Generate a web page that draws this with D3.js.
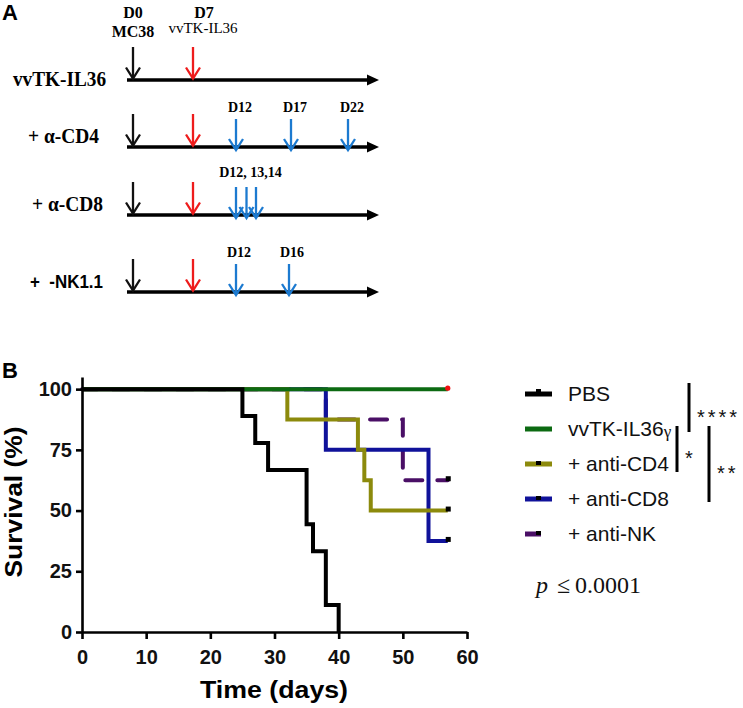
<!DOCTYPE html>
<html><head><meta charset="utf-8">
<script src="https://cdn.jsdelivr.net/npm/d3@7"></script>
<style>body{margin:0;background:#fff} svg{display:block}</style>
</head><body><svg id="c" width="743" height="708"></svg>
<script>
// ---------------- DATA ----------------
// Panel A: schedule
const rowLabels = ["vvTK-IL36", "+ \u03b1-CD4", "+ \u03b1-CD8", "+  -NK1.1"];
const tumorDay = 0;
const virusDay = 7;
const antibodyDays = [[], [12, 17, 22], [12, 13, 14], [12, 16]];
const antibodyLabels = [[], ["D12", "D17", "D22"], ["D12, 13,14"], ["D12", "D16"]];
const antibodyLabelDays = [[], [12, 17, 22], [13], [12, 16]];
const topLabels = [["D0", "MC38"], ["D7", "vvTK-IL36"]];

// Panel B: Kaplan-Meier survival
const timeTicks = [0, 10, 20, 30, 40, 50, 60];
const survivalTicks = [0, 25, 50, 75, 100];
const seriesNames = ["PBS", "vvTK-IL36", "+ anti-CD4", "+ anti-CD8", "+ anti-NK"];
const pbsDays = [0, 25, 27, 29, 35, 36, 38, 40];
const pbsSurv = [100, 88.9, 77.8, 66.7, 44.4, 33.3, 11.1, 0];
const il36Days = [0, 57];
const il36Surv = [100, 100];
const cd4Days = [0, 32, 43, 44, 45, 57];
const cd4Surv = [100, 87.5, 75, 62.5, 50, 50];
const cd8Days = [0, 38, 54, 57];
const cd8Surv = [100, 75, 37.5, 37.5];
const nkDays = [0, 38, 50, 57];
const nkSurv = [100, 87.5, 62.5, 62.5];
const sigLabels = ["****", "*", "**"];
const sigPairs = [[0, 1], [1, 2], [1, 3]];
const pText = "0.0001";

// ---------------- STYLE / LAYOUT ----------------
const colors = ["#000000", "#0c6a12", "#8c8a0c", "#10129a", "#4a0f66"];
const serif = "'Liberation Serif','Times New Roman',serif";
const sans = "'Liberation Sans',Arial,sans-serif";
const svg = d3.select("#c");

// ---------- Panel A ----------
svg.append("text").attr("x", 2).attr("y", 20).text("A")
  .attr("font-family", sans).attr("font-weight", "bold").attr("font-size", 22);

const sx = d3.scaleLinear().domain([0, 7, 12, 13, 14, 16, 17, 22])
  .range([133, 193, 236, 246.5, 256, 289, 291, 348]);
const rowY = [80, 147, 215, 292];
const rowLabelX = [13, 28, 32, 30];
const rowLabelW = [93, 71, 71, 73];
const arrowCol = {tumor: "#111111", virus: "#ee1c1c", ab: "#1c7ad0"};

function arrow(g, x, y1, y2, col) {
  g.append("line").attr("x1", x).attr("x2", x).attr("y1", y1).attr("y2", y2)
    .attr("stroke", col).attr("stroke-width", 2.3);
  g.append("path").attr("d", `M${x-7},${y2-11}L${x},${y2}L${x+7},${y2-11}`)
    .attr("fill", "none").attr("stroke", col).attr("stroke-width", 2.3);
}

const gA = svg.append("g");
rowLabels.forEach((lab, i) => {
  const L = rowY[i];
  gA.append("line").attr("x1", 127).attr("x2", 369).attr("y1", L).attr("y2", L)
    .attr("stroke", "#000").attr("stroke-width", 3.5);
  gA.append("path").attr("d", `M367,${L-5.5}L379,${L}L367,${L+5.5}Z`).attr("fill", "#000");
  gA.append("text").attr("x", rowLabelX[i]).attr("y", L + (i === 0 ? 6 : -4))
    .attr("font-family", i === 3 ? sans : serif).attr("font-weight", "bold")
    .attr("font-size", i === 3 ? 18 : 21).style("white-space", "pre")
    .attr("textLength", rowLabelW[i]).attr("lengthAdjust", "spacingAndGlyphs").text(lab);
  arrow(gA, sx(tumorDay), L - 33, L - 1.5, arrowCol.tumor);
  arrow(gA, sx(virusDay), L - 33, L - 1.5, arrowCol.virus);
  antibodyDays[i].forEach(d => arrow(gA, sx(d), L - 28, L + 3, arrowCol.ab));
  antibodyLabels[i].forEach((s, j) => {
    gA.append("text").attr("x", sx(antibodyLabelDays[i][j]) + (i === 3 ? 3 : 4))
      .attr("y", L - (i === 2 ? 38 : 35)).attr("text-anchor", "middle")
      .attr("font-family", serif).attr("font-weight", "bold").attr("font-size", 14).text(s);
  });
});
// top labels
[[tumorDay, 0], [virusDay, 1]].forEach(([d, k]) => {
  gA.append("text").attr("x", sx(d) + (k ? 11 : 0)).attr("y", 18).attr("text-anchor", "middle")
    .attr("font-family", serif).attr("font-weight", "bold").attr("font-size", 16).text(topLabels[k][0]);
  gA.append("text").attr("x", sx(d) + (k ? 10 : 0)).attr("y", k ? 33 : 37).attr("text-anchor", "middle")
    .attr("font-family", serif).attr("font-weight", k ? "normal" : "bold").attr("font-size", k ? 15 : 16)
    .text(topLabels[k][1]);
});

// ---------- Panel B ----------
svg.append("text").attr("x", 2).attr("y", 378).text("B")
  .attr("font-family", sans).attr("font-weight", "bold").attr("font-size", 22);

const x = d3.scaleLinear().domain([0, 60]).range([82, 467]);
const y = d3.scaleLinear().domain([0, 105]).range([632, 377]);

const series = [
  {days: pbsDays, surv: pbsSurv},
  {days: il36Days, surv: il36Surv},
  {days: cd4Days, surv: cd4Surv},
  {days: cd8Days, surv: cd8Surv},
  {days: nkDays, surv: nkSurv}
].map((s, i) => ({i, name: seriesNames[i], color: colors[i], pts: s.days.map((d, k) => [d, s.surv[k]])}));

const line = d3.line().x(d => x(d[0])).y(d => y(d[1])).curve(d3.curveStepAfter);
const gP = svg.append("g");
const order = [4, 3, 2, 1, 0];
order.forEach(i => {
  const s = series[i];
  const p = gP.append("path").attr("d", line(s.pts)).attr("fill", "none")
    .attr("stroke", s.color).attr("stroke-width", 4)
    .attr("stroke-linejoin", "miter");
  if (i === 4) p.attr("stroke-dasharray", "17,15").attr("stroke-dashoffset", 1.6).attr("stroke-linecap", "round");
});
// censor marks
[2, 3, 4].forEach(i => {
  const last = series[i].pts[series[i].pts.length - 1];
  gP.append("rect").attr("x", x(last[0]) - 2).attr("y", y(last[1]) - 4).attr("width", 5).attr("height", 5).attr("fill", "#000");
});
{
  const last = series[1].pts[series[1].pts.length - 1];
  gP.append("circle").attr("cx", x(last[0])).attr("cy", y(last[1]) - 1).attr("r", 2.6).attr("fill", "#f01010");
}

// axes
const gx = svg.append("g").attr("transform", "translate(0,632)")
  .call(d3.axisBottom(x).tickValues(timeTicks).tickSize(7).tickSizeOuter(0).tickPadding(11));
const gy = svg.append("g").attr("transform", "translate(82,0)")
  .call(d3.axisLeft(y).tickValues(survivalTicks).tickSize(6).tickSizeOuter(0).tickPadding(4));
[gx, gy].forEach(g => {
  g.selectAll("path,line").attr("stroke", "#000").attr("stroke-width", 2.6);
  g.selectAll("text").attr("font-family", sans).attr("font-weight", "bold").attr("font-size", 20).attr("fill", "#111");
});
svg.append("text").attr("x", 274).attr("y", 698).attr("text-anchor", "middle")
  .attr("font-family", sans).attr("font-weight", "bold").attr("font-size", 23)
  .attr("textLength", 148).attr("lengthAdjust", "spacingAndGlyphs").text("Time (days)");
svg.append("text").attr("transform", "translate(22,502) rotate(-90)").attr("text-anchor", "middle")
  .attr("font-family", sans).attr("font-weight", "bold").attr("font-size", 23)
  .attr("textLength", 151).attr("lengthAdjust", "spacingAndGlyphs").text("Survival (%)");

// legend
const legY = i => 394 + i * 35;
const gL = svg.append("g");
series.forEach((s, i) => {
  const ly = legY(i);
  gL.append("line").attr("x1", 525).attr("x2", i === 4 ? 541 : 552).attr("y1", ly).attr("y2", ly)
    .attr("stroke", s.color).attr("stroke-width", 5);
  if (i === 0) gL.append("rect").attr("x", 536).attr("y", ly - 5).attr("width", 5).attr("height", 4).attr("fill", "#000");
  if (i >= 2) gL.append("rect").attr("x", 536).attr("y", ly - 3).attr("width", 5).attr("height", 4).attr("fill", "#000");
  const t = gL.append("text").attr("x", 568).attr("y", ly + 7).attr("font-family", sans)
    .attr("font-size", 21).attr("fill", "#111").text(s.name);
  if (i === 1) t.append("tspan").attr("font-family", serif).attr("font-size", 17).attr("dy", 1).text("\u03b3");
});
// significance brackets
const brX = [689, 677, 709];
sigPairs.forEach(([a, b], k) => {
  const top = legY(a) - (k === 0 ? 11 : 3), bot = legY(b) + (k === 1 ? 8 : 3);
  gL.append("line").attr("x1", brX[k]).attr("x2", brX[k]).attr("y1", top).attr("y2", bot)
    .attr("stroke", "#000").attr("stroke-width", 3);
  gL.append("text").attr("x", brX[k] + 8).attr("y", (top + bot) / 2 + 16)
    .attr("font-family", sans).attr("font-size", 20).attr("letter-spacing", 3).attr("fill", "#111")
    .text(sigLabels[k]);
});
// p value
const pt = svg.append("text").attr("y", 593).attr("font-family", serif).attr("font-size", 24).attr("fill", "#111");
pt.append("tspan").attr("x", 536).attr("font-style", "italic").text("p");
pt.append("tspan").attr("x", 557).text("\u2264");
pt.append("tspan").attr("x", 575).text(pText);
</script></body></html>
